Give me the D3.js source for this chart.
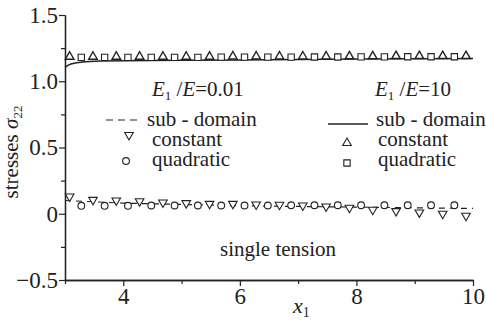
<!DOCTYPE html>
<html>
<head>
<meta charset="utf-8">
<script src="https://cdn.jsdelivr.net/npm/d3@7"></script>
<style>
  html, body { margin: 0; padding: 0; background: #fff; }
  svg { display: block; }
</style>
</head>
<body>
<svg id="chart" width="486" height="327"></svg>
<script>
// Sample positions along x1
const xA = [3.08, 3.48, 3.88, 4.28, 4.68, 5.08, 5.48, 5.88, 6.28, 6.68, 7.08, 7.48, 7.88, 8.28, 8.68, 9.08, 9.48, 9.88];
const xB = [3.28, 3.68, 4.08, 4.48, 4.88, 5.28, 5.68, 6.08, 6.48, 6.88, 7.28, 7.68, 8.08, 8.48, 8.88, 9.28, 9.68];

// E1/E = 10
const hiConstant = [1.185, 1.185, 1.185, 1.185, 1.185, 1.185, 1.185, 1.187, 1.187, 1.187, 1.187, 1.187, 1.188, 1.188, 1.19, 1.19, 1.19, 1.19];
const hiQuadratic = [1.18, 1.18, 1.18, 1.18, 1.18, 1.18, 1.182, 1.182, 1.182, 1.182, 1.183, 1.183, 1.184, 1.184, 1.185, 1.185, 1.185];
const hiSubX = [3.0, 3.05, 3.1, 3.2, 3.35, 3.6, 4, 5, 6, 7, 8, 9, 10];
const hiSubY = [1.105, 1.12, 1.13, 1.14, 1.147, 1.152, 1.155, 1.158, 1.161, 1.164, 1.167, 1.17, 1.172];

// E1/E = 0.01
const loConstant = [0.13, 0.105, 0.10, 0.095, 0.085, 0.08, 0.075, 0.075, 0.07, 0.068, 0.062, 0.055, 0.045, 0.03, 0.02, 0.01, 0.0, -0.015];
const loQuadratic = [0.06, 0.06, 0.06, 0.062, 0.062, 0.062, 0.062, 0.062, 0.062, 0.064, 0.064, 0.064, 0.064, 0.064, 0.064, 0.064, 0.064];
const loSubX = [3.0, 3.5, 4, 5, 6, 7, 8, 9, 10];
const loSubY = [0.10, 0.09, 0.08, 0.07, 0.06, 0.055, 0.05, 0.045, 0.04];

const xTicks = [4, 6, 8, 10];
const xMinor = [3, 5, 7, 9];
const yTicks = [-0.5, 0, 0.5, 1.0, 1.5];
const yTickLabels = ["\u22120.5", "0", "0.5", "1.0", "1.5"];
const yMinor = [-0.25, 0.25, 0.75, 1.25];

const FONT = '"Liberation Serif", "Tinos", "Times New Roman", serif';
const svg = d3.select("#chart");
const ink = "#222";

const x = d3.scaleLinear().domain([3, 10]).range([65, 473]);
const y = d3.scaleLinear().domain([-0.5, 1.5]).range([280, 15]);

// Axes
const gx = svg.append("g").attr("transform", `translate(0,${y(-0.5)})`)
  .call(d3.axisBottom(x).tickValues(xTicks).tickFormat(d3.format("d")).tickSize(6).tickPadding(2).tickSizeOuter(0));
const gxm = svg.append("g").attr("transform", `translate(0,${y(-0.5)})`)
  .call(d3.axisBottom(x).tickValues(xMinor).tickFormat("").tickSize(4).tickSizeOuter(0));
const gy = svg.append("g").attr("transform", `translate(${x(3)},0)`)
  .call(d3.axisLeft(y).tickValues(yTicks).tickFormat((d, i) => yTickLabels[i]).tickSize(6).tickPadding(1).tickSizeOuter(0));
const gym = svg.append("g").attr("transform", `translate(${x(3)},0)`)
  .call(d3.axisLeft(y).tickValues(yMinor).tickFormat("").tickSize(4).tickSizeOuter(0));

[gx, gxm, gy, gym].forEach(g => {
  g.selectAll(".domain").attr("stroke", ink).attr("stroke-width", 1.3);
  g.selectAll(".tick line").attr("stroke", ink).attr("stroke-width", 1.2);
  g.selectAll("text").attr("fill", ink).style("font-family", FONT).style("font-size", "23px");
});

// Lines
const line = d3.line().x(d => x(d[0])).y(d => y(d[1]));
svg.append("path").datum(hiSubX.map((v, i) => [v, hiSubY[i]]))
  .attr("d", line).attr("fill", "none").attr("stroke", ink).attr("stroke-width", 1.5);
svg.append("path").datum(loSubX.map((v, i) => [v, loSubY[i]]))
  .attr("d", line).attr("fill", "none").attr("stroke", ink).attr("stroke-width", 1.2)
  .attr("stroke-dasharray", "6,5");

// Marker symbols
const triUp = d3.symbol().type(d3.symbolTriangle).size(32);
const square = d3.symbol().type(d3.symbolSquare).size(40);
const circle = d3.symbol().type(d3.symbolCircle).size(36);

function markers(xs, ys, sym, rot, sw) {
  svg.append("g").selectAll("path").data(xs.map((v, i) => [v, ys[i]])).join("path")
    .attr("d", sym)
    .attr("transform", d => `translate(${x(d[0])},${y(d[1])})${rot ? " rotate(180)" : ""}`)
    .attr("fill", "#fff").attr("stroke", ink).attr("stroke-width", sw);
}
markers(xB, hiQuadratic, square, false, 1.1);
markers(xA, hiConstant, triUp, false, 1.4);
markers(xB, loQuadratic, circle, false, 1.1);
markers(xA, loConstant, triUp, true, 1.1);

// Legends
const txt = (px, py, s, size) => svg.append("text").attr("x", px).attr("y", py)
  .attr("fill", ink).style("font-family", FONT).style("font-size", (size || 21) + "px").text(s);

function ratio(px, py, val) {
  const t = svg.append("text").attr("x", px).attr("y", py).attr("fill", ink)
    .style("font-family", FONT).style("font-size", "21px");
  t.append("tspan").style("font-style", "italic").text("E");
  t.append("tspan").attr("dy", 4).style("font-size", "13px").text("1");
  t.append("tspan").attr("dy", -4).text(" /");
  t.append("tspan").style("font-style", "italic").text("E");
  t.append("tspan").text("=" + val);
}
ratio(152, 96, "0.01");
ratio(375, 96, "10");

// left legend entries
svg.append("line").attr("x1", 106).attr("x2", 142).attr("y1", 120).attr("y2", 120)
  .attr("stroke", ink).attr("stroke-width", 1.2).attr("stroke-dasharray", "7,5");
txt(147, 126, "sub - domain");
svg.append("path").attr("d", triUp).attr("transform", "translate(129,135) rotate(180)")
  .attr("fill", "#fff").attr("stroke", ink).attr("stroke-width", 1.1);
txt(152, 146, "constant");
svg.append("path").attr("d", circle).attr("transform", "translate(126,161)")
  .attr("fill", "#fff").attr("stroke", ink).attr("stroke-width", 1.1);
txt(152, 166, "quadratic");

// right legend entries
svg.append("line").attr("x1", 328).attr("x2", 368).attr("y1", 124).attr("y2", 124)
  .attr("stroke", ink).attr("stroke-width", 1.5);
txt(376, 126, "sub - domain");
svg.append("path").attr("d", triUp).attr("transform", "translate(347,143)")
  .attr("fill", "#fff").attr("stroke", ink).attr("stroke-width", 1.1);
txt(378, 146, "constant");
svg.append("path").attr("d", square).attr("transform", "translate(347,163)")
  .attr("fill", "#fff").attr("stroke", ink).attr("stroke-width", 1.1);
txt(378, 166, "quadratic");

txt(220, 256, "single tension");

// Axis titles
const xt = svg.append("text").attr("x", 293).attr("y", 313).attr("fill", ink)
  .style("font-family", FONT).style("font-size", "22px");
xt.append("tspan").style("font-style", "italic").text("x");
xt.append("tspan").attr("dy", 4).style("font-size", "14px").text("1");

const yt = svg.append("text").attr("transform", "translate(18,152) rotate(-90)")
  .attr("text-anchor", "middle").attr("fill", ink)
  .style("font-family", FONT).style("font-size", "21px");
yt.append("tspan").text("stresses ");
yt.append("tspan").style("font-style", "italic").text("\u03C3");
yt.append("tspan").attr("dy", 4).style("font-size", "13px").text("22");
</script>
</body>
</html>
